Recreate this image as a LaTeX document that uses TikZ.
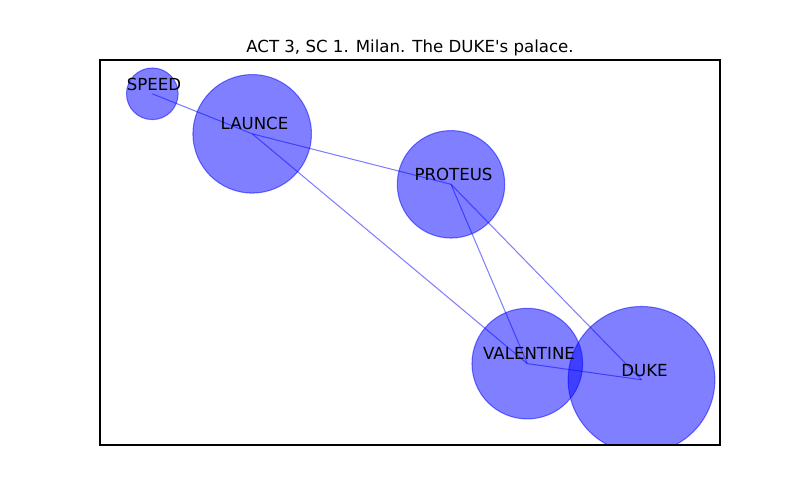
\documentclass[tikz,border=0pt]{standalone}
\usepackage{fontspec}
\setmainfont{DejaVu Sans}[Ligatures=TeXOff]
\begin{document}
\begin{tikzpicture}[x=0.01in,y=-0.01in,
  person/.style={circle,fill=blue,fill opacity=0.5,draw=blue,draw opacity=0.5,line width=0.75pt,inner sep=0pt},
  tie/.style={draw=blue,draw opacity=0.5,line width=0.75pt},
  lbl/.style={anchor=base,inner sep=0pt,font=\fontsize{12pt}{14pt}\selectfont}]
\useasboundingbox (0,0) rectangle (800,500);
\node[lbl] (title) at (410,52) {ACT 3, SC 1. Milan. The DUKE's palace.};
\begin{scope}
\clip (100,60) rectangle (720,445);
\coordinate (cSPEED) at (152.3,93.8);
\coordinate (cLAUNCE) at (252.2,133.8);
\coordinate (cPROTEUS) at (451,184.3);
\coordinate (cVALENTINE) at (527.3,363.6);
\coordinate (cDUKE) at (641.5,379.8);
\draw[tie] (cSPEED) -- (cLAUNCE);
\draw[tie] (cLAUNCE) -- (cPROTEUS);
\draw[tie] (cLAUNCE) -- (cVALENTINE);
\draw[tie] (cPROTEUS) -- (cVALENTINE);
\draw[tie] (cPROTEUS) -- (cDUKE);
\draw[tie] (cVALENTINE) -- (cDUKE);
\node[person,minimum size=0.516in] (SPEED) at (cSPEED) {};
\node[person,minimum size=1.184in] (LAUNCE) at (cLAUNCE) {};
\node[person,minimum size=1.074in] (PROTEUS) at (cPROTEUS) {};
\node[person,minimum size=1.106in] (VALENTINE) at (cVALENTINE) {};
\node[person,minimum size=1.466in] (DUKE) at (cDUKE) {};
\end{scope}
\draw[line width=0.8pt] (100,60) rectangle (720,445);
\node[lbl] (lSPEED) at (154,90) {SPEED};
\node[lbl] (lLAUNCE) at (254.5,129.5) {LAUNCE};
\node[lbl] (lPROTEUS) at (453.5,180.5) {PROTEUS};
\node[lbl] (lVALENTINE) at (529,359.5) {VALENTINE};
\node[lbl] (lDUKE) at (644.5,376) {DUKE};
\end{tikzpicture}
\end{document}
